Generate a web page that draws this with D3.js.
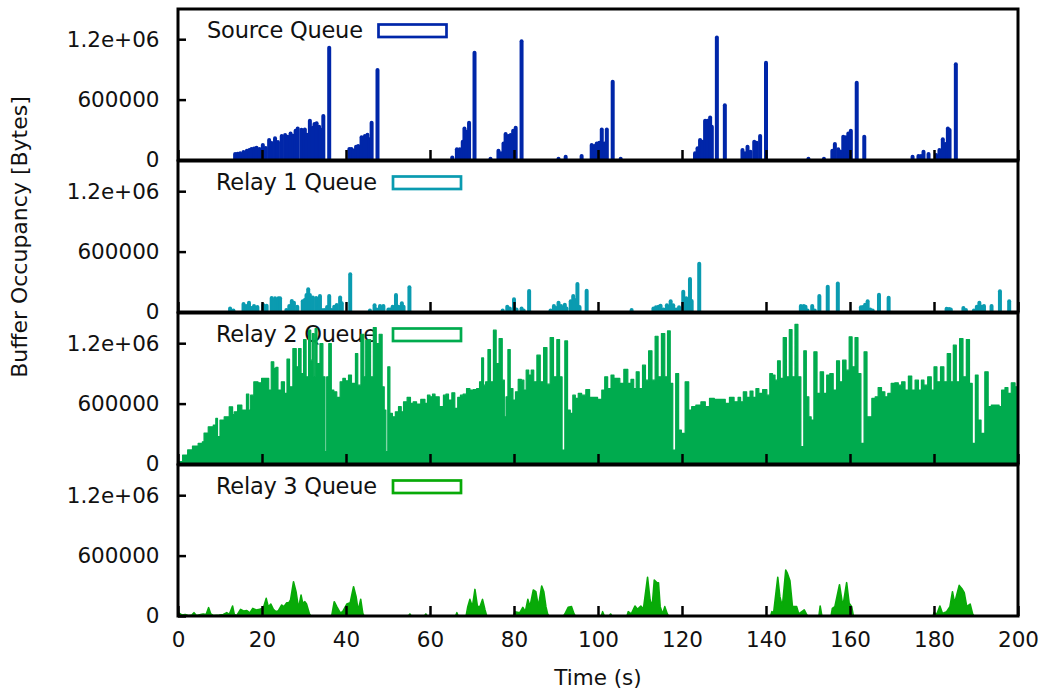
<!DOCTYPE html>
<html lang="en">
<head>
<meta charset="UTF-8">
<title>Buffer Occupancy</title>
<script src="https://d3js.org/d3.v7.min.js"></script>
<style>
  body { margin: 0; background: #fff; }
  svg text { font-family: 'DejaVu Sans', sans-serif; fill: #111; }
</style>
</head>
<body>
<svg id="chart" width="1040" height="689"></svg>
<script>
// --- Data (time in s, occupancy in kB = 1000 bytes) ---
const sourceQueue = [
  [13.6,60],[14.2,63],[14.8,66],[15.6,80],[16.4,93],[17.0,100],[17.5,109],[18.1,115],[18.7,122],[19.4,110],
  [20.2,149],[20.9,120],[21.7,198],[22.3,170],[23.1,215],[23.8,180],[24.7,238],[25.5,248],[26.1,230],[26.8,264],
  [27.4,240],[28.0,290],[28.5,314],[29.4,300],[30.2,304],[30.7,250],[31.4,390],[32.1,320],[32.5,357],[33.0,364],
  [33.6,330],[34.0,300],[34.6,436],[36.0,1114],
  [40.8,109],[41.3,109],[41.8,95],[42.4,132],[42.9,138],[43.7,225],[44.5,238],[45.1,251],[45.6,205],[46.1,370],
  [47.5,893],
  [65.3,26],[66.4,106],[67.1,106],[67.8,182],[68.2,314],[68.7,280],[69.3,370],[70.6,1065],
  [74.4,13],[76.3,93],[76.9,66],[77.5,165],[78.0,258],[78.6,238],[79.2,248],[79.8,291],[80.4,321],[81.8,1180],
  [90.6,13],[92.3,33],[96.1,40],
  [98.5,149],[99.1,140],[99.7,165],[100.3,172],[100.9,304],[101.5,165],[102.1,304],[103.5,777],[105.4,13],
  [123.1,66],[123.7,116],[124.3,198],[124.9,182],[125.5,390],[126.1,390],[126.7,423],[127.1,330],[128.3,1217],
  [130.2,545],
  [134.4,99],[135.0,66],[135.6,132],[136.3,83],[137.2,182],[137.8,172],[138.6,238],[140.0,965],
  [150.1,13],[153.8,13],
  [155.8,93],[156.4,159],[157.2,106],[157.8,83],[158.4,231],[159.0,225],[159.6,264],[160.2,291],[161.6,767],
  [163.4,231],
  [174.9,33],[176.3,40],[176.9,40],[177.5,83],[178.7,60],[180.5,50],[181.3,99],[182.1,205],[182.7,159],
  [183.3,314],[183.7,298],[185.2,952]
];

const relay1Queue = [
  [12.4,36],[13.2,15],[15.6,79],[16.2,60],[16.9,93],[17.5,40],[18.1,60],[18.9,50],[20.3,69],[21.1,63],
  [22.3,139],[23.1,136],[23.9,136],[24.3,136],[25.8,20],[26.5,60],[27.1,109],[27.6,93],[28.4,53],[29.7,106],
  [30.2,119],[30.6,169],[31.0,225],[31.4,169],[32.1,145],[32.9,139],[33.4,50],[33.8,159],[34.2,20],[34.8,20],
  [35.5,50],[36.0,159],[36.6,20],[37.2,53],[37.8,69],[38.6,145],[39.0,86],[41.0,374],
  [45.7,15],[46.8,66],[47.3,26],[48.1,60],[48.9,60],[50.1,26],[50.5,26],[51.1,53],[51.9,169],[52.5,53],
  [53.3,86],[53.7,53],[55.1,245],
  [77.3,15],[78.4,53],[79.0,36],[80.0,126],[80.6,26],[81.8,36],[82.3,15],[83.6,208],
  [88.7,15],[89.5,60],[90.0,40],[90.6,93],[91.2,60],[92.1,73],[92.5,36],[93.5,106],[94.1,159],[94.5,119],
  [95.1,278],[95.6,50],[97.3,212],
  [108.0,20],[113.2,36],[113.8,46],[114.4,53],[114.9,63],[115.6,26],[116.4,66],[116.8,53],[117.3,106],
  [117.9,66],[118.6,26],[119.3,46],[120.3,202],[121.0,136],[121.9,327],[122.3,109],[124.1,479],
  [148.3,60],[149.0,60],[149.4,53],[149.9,15],[151.0,60],[151.6,15],[152.7,159],[154.7,251],[157.1,284],
  [162.6,46],[163.1,50],[163.6,73],[164.2,106],[164.8,26],[165.4,15],[166.9,172],[169.2,142],
  [183.0,33],[183.6,30],[184.0,26],[187.0,40],[187.6,20],[189.5,15],[190.2,53],[190.8,93],[191.4,53],
  [191.9,60],[193.7,60],[195.7,205],[197.9,106]
];

const relay2Queue = [
  [0,0],[0.2,10],[0.5,23],[1.7,89],[2.9,140],[4.0,178],[5.6,205],[6.0,220],[6.4,307],[8.0,370],[8.8,387],
  [9.2,453],[9.6,271],[10.4,436],[11.6,469],[12.8,568],[13.2,490],[13.6,519],[14.8,585],[15.6,536],[16.0,536],
  [16.6,694],[17.1,536],[17.5,684],[18.6,816],[19.5,807],[20.3,850],[21.3,850],[21.9,734],[22.5,1015],[23.1,949],
  [23.5,959],[24.1,734],[25.1,816],[25.6,701],[26.3,1041],[26.8,767],[27.9,1147],[28.4,965],[29.0,1147],[29.6,899],
  [30.2,1236],[30.8,866],[31.4,1329],[31.8,1031],[32.2,1296],[32.5,866],[32.8,1345],[33.4,998],[34.2,1197],[34.8,866],
  [35.2,122],[35.6,866],[36.2,1197],[36.8,734],[37.4,717],[38.2,661],[39.0,816],[39.5,850],[40.2,826],[41.0,883],
  [41.6,800],[42.0,800],[42.5,1097],[43.1,783],[44.0,1289],[44.5,866],[44.9,1230],[45.6,1236],[46.1,866],[46.9,1355],
  [47.5,1197],[48.3,1289],[48.9,767],[49.3,536],[49.7,122],[50.2,965],[50.7,502],[51.4,469],[52.1,519],[52.9,569],
  [53.4,519],[54.0,618],[55.1,661],[55.6,602],[56.4,618],[57.2,595],[58.4,641],[59.2,602],[59.6,684],[60.4,668],
  [60.8,694],[61.6,668],[62.8,569],[63.6,684],[64.0,694],[64.8,635],[65.6,707],[66.2,552],[67.0,661],[67.5,684],
  [68.3,694],[69.1,750],[69.9,734],[70.7,740],[71.5,750],[72.1,816],[72.5,1054],[73.0,783],[73.5,816],[74.1,1137],
  [74.7,816],[75.5,1329],[76.0,998],[76.9,1246],[77.5,833],[77.9,469],[78.3,668],[78.8,1137],[79.4,750],[80.1,635],
  [80.6,717],[81.4,840],[82.1,833],[82.6,734],[83.2,932],[83.8,883],[84.4,932],[85.0,816],[85.9,1081],[86.6,816],
  [87.5,1157],[88.2,793],[89.0,1256],[89.8,866],[90.6,1236],[91.1,866],[91.8,139],[92.4,1223],[93.1,536],[93.7,502],
  [94.3,684],[94.9,651],[95.7,701],[96.5,684],[97.7,740],[98.3,661],[99.3,661],[100.5,641],[101.3,734],[101.9,866],
  [102.7,750],[103.5,883],[104.1,850],[104.8,850],[105.6,800],[106.7,939],[107.5,800],[108.2,840],[108.8,750],[109.4,916],
  [110.2,750],[111.0,982],[111.6,833],[112.5,1124],[113.2,833],[114.0,1269],[114.6,866],[115.6,1296],[116.2,866],[116.9,1322],
  [117.5,800],[118.1,139],[118.9,899],[119.5,337],[120.2,304],[121.3,816],[121.9,536],[122.7,569],[123.9,585],[125.1,618],
  [126.0,569],[127.1,651],[128.3,641],[129.8,641],[130.8,602],[131.8,661],[133.0,618],[133.7,661],[134.2,618],[135.0,717],
  [135.8,661],[136.6,724],[137.2,661],[138.0,750],[138.6,701],[139.8,740],[140.6,684],[141.2,899],[141.9,883],[142.4,833],
  [143.1,1025],[143.7,850],[144.5,1256],[145.2,866],[145.9,1335],[146.5,866],[147.3,1388],[147.9,866],[148.7,172],[149.3,1124],
  [149.9,668],[150.5,469],[151.0,436],[151.8,1114],[152.5,701],[153.3,916],[154.1,701],[154.8,883],[155.6,899],[156.4,734],
  [157.2,1025],[157.8,816],[158.7,1031],[159.4,932],[160.2,1263],[160.8,965],[161.6,1256],[162.2,899],[163.0,205],[163.7,1114],
  [164.4,469],[164.8,469],[165.6,651],[166.4,668],[167.0,760],[168.0,717],[168.6,668],[169.4,701],[170.2,800],[171.1,807],
  [171.9,783],[172.7,816],[173.5,734],[174.3,873],[175.1,734],[175.9,833],[176.7,734],[177.3,833],[177.9,783],[179.1,866],
  [179.6,734],[180.4,965],[181.0,816],[182.1,965],[182.6,816],[183.7,1097],[184.2,816],[185.0,1180],[185.6,816],[186.6,1246],
  [187.2,866],[188.2,1236],[188.7,800],[189.5,205],[190.2,883],[190.8,436],[191.6,304],[192.6,916],[193.2,569],[194.1,585],
  [195.3,585],[195.7,569],[196.5,734],[197.3,760],[197.9,701],[198.9,807],[199.7,767],[200,750]
];

const relay3Queue = [
  [0,0],[0.1,33],[0.9,10],[1.7,15],[2.5,5],[3.3,10],[3.8,33],[4.4,5],[5.4,15],[6.0,20],[6.7,15],[7.3,83],[7.8,20],
  [8.4,5],[9.8,10],[10.8,15],[11.6,33],[12.2,15],[13.0,99],[13.4,15],[14.0,5],[14.9,66],[15.6,50],[16.4,53],
  [17.1,30],[17.8,76],[18.6,60],[19.4,66],[20.3,76],[21.0,175],[21.5,90],[22.1,119],[22.7,66],[23.3,43],[23.9,53],
  [24.7,109],[25.2,93],[25.9,132],[26.4,132],[26.8,159],[27.5,340],[28.1,241],[28.7,76],[29.3,208],[29.7,126],
  [30.2,142],[30.6,119],[31.3,20],[31.6,0],
  [36.6,0],[37.2,142],[37.8,93],[38.6,33],[39.2,43],[40.2,119],[41.0,132],[41.8,291],[42.4,192],[42.9,53],
  [43.5,165],[44.0,26],[44.3,0],
  [54.9,0],[55.2,20],[55.5,0],[58.7,0],[59.0,20],[59.3,0],[66.1,0],[66.4,33],[66.7,0],
  [68.6,0],[69.0,93],[69.5,165],[70.1,93],[70.7,264],[71.3,93],[71.9,93],[72.5,165],[73.1,60],[73.5,0],
  [79.9,0],[80.2,43],[81.4,33],[82.1,86],[82.7,43],[83.3,165],[83.8,93],[84.6,258],[85.2,241],[85.8,93],
  [86.6,298],[87.1,241],[87.6,93],[88.0,20],[88.3,0],
  [91.8,0],[92.1,20],[92.9,86],[93.7,93],[94.3,20],[94.6,0],
  [100.8,0],[101.1,43],[101.5,0],[102.7,0],[103.0,20],[103.3,0],
  [106.9,0],[107.2,43],[107.9,20],[108.8,99],[109.4,66],[110.2,99],[110.8,66],[111.8,384],[112.4,159],[112.9,93],
  [113.4,357],[114.0,331],[114.4,331],[114.8,93],[115.4,20],[115.9,93],[116.5,20],[116.8,0],
  [141.1,0],[141.4,43],[141.8,26],[142.8,384],[143.3,192],[143.9,93],[144.7,456],[145.1,423],[145.7,350],[146.3,93],
  [147.3,93],[147.8,20],[149.1,60],[149.6,20],[149.9,0],
  [152.6,0],[152.9,99],[153.3,0],
  [155.5,0],[155.8,76],[156.4,93],[157.5,311],[158.3,93],[159.2,331],[159.8,126],[160.4,93],[160.8,0],
  [179.8,0],[180.0,33],[180.7,20],[181.4,99],[182.0,26],[183.0,43],[183.8,93],[184.4,241],[184.9,126],[186.0,304],
  [186.6,274],[187.2,231],[187.8,93],[188.6,119],[189.2,20],[189.5,0]
];

const seriesNames = ["Source Queue", "Relay 1 Queue", "Relay 2 Queue", "Relay 3 Queue"];
const seriesColors = ["#0026a9", "#0a9bb0", "#00ab4e", "#08aa08"];
const seriesData = [sourceQueue, relay1Queue, relay2Queue, relay3Queue];
const seriesKind = ["impulses", "impulses", "steps", "area"];

const xTickValues = [0, 20, 40, 60, 80, 100, 120, 140, 160, 180, 200];
const yTickValues = [0, 600000, 1200000];
const yTickLabels = ["0", "600000", "1.2e+06"];

// --- Layout ---
const FONT = 21.5;
const plotLeft = 178, plotRight = 1018;
const panelTop0 = 9, panelH = 151, panelStep = 152;
const legendTextX = [207, 216, 216, 216];
const legendTextW = [156, 161, 161, 161];
const legendBoxX = [378.5, 393, 393, 393];

const svg = d3.select("#chart");
const x = d3.scaleLinear().domain([0, 200]).range([plotLeft, plotRight]);

seriesData.forEach((data, i) => {
  const top = panelTop0 + i * panelStep;
  const bottom = top + panelH;
  const y = d3.scaleLinear().domain([0, 1.5e6]).range([bottom, top]);
  const color = seriesColors[i];
  const g = svg.append("g");

  svg.append("clipPath").attr("id", "clip" + i)
    .append("rect").attr("x", plotLeft).attr("y", top)
    .attr("width", plotRight - plotLeft).attr("height", panelH);

  // legend (drawn below the data, like the original)
  g.append("text")
    .attr("x", legendTextX[i]).attr("y", top + 29)
    .attr("font-size", 22.5)
    .attr("textLength", legendTextW[i])
    .text(seriesNames[i]);
  g.append("rect")
    .attr("x", legendBoxX[i]).attr("y", top + 15.5)
    .attr("width", 68).attr("height", 12.5)
    .attr("fill", "none").attr("stroke", color).attr("stroke-width", 2.7);

  // data
  const plot = g.append("g").attr("clip-path", `url(#clip${i})`);
  if (seriesKind[i] === "impulses") {
    plot.selectAll("line").data(data).join("line")
      .attr("x1", d => x(d[0])).attr("x2", d => x(d[0]))
      .attr("y1", y(0)).attr("y2", d => y(d[1] * 1000))
      .attr("stroke", color).attr("stroke-width", 4).attr("stroke-linecap", "round");
  } else {
    const curve = seriesKind[i] === "steps" ? d3.curveStep : d3.curveLinear;
    const area = d3.area().curve(curve).x(d => x(d[0])).y0(y(0)).y1(d => y(d[1] * 1000));
    const line = d3.line().curve(curve).x(d => x(d[0])).y(d => y(d[1] * 1000));
    plot.append("path").attr("d", area(data)).attr("fill", color);
    plot.append("path").attr("d", line(data))
      .attr("fill", "none").attr("stroke", color)
      .attr("stroke-width", seriesKind[i] === "steps" ? 1.2 : 1.6).attr("stroke-linejoin", "round");
  }

  // axes (ticks point inwards)
  const yAxis = d3.axisLeft(y).tickValues(yTickValues)
    .tickFormat((d, j) => yTickLabels[j]).tickSize(-8).tickPadding(18.5);
  g.append("g").attr("transform", `translate(${plotLeft},0)`).call(yAxis)
    .call(a => a.select(".domain").remove())
    .call(a => a.selectAll("line").attr("stroke", "#000").attr("stroke-width", 2.5))
    .call(a => a.selectAll("text").attr("font-size", FONT).attr("font-family", "DejaVu Sans").attr("fill", "#111"));

  const xAxis = d3.axisBottom(x).tickValues(xTickValues).tickSize(-10).tickPadding(16)
    .tickFormat(i === 3 ? d => d : () => "");
  g.append("g").attr("transform", `translate(0,${bottom})`).call(xAxis)
    .call(a => a.select(".domain").remove())
    .call(a => a.selectAll("line").attr("stroke", "#000").attr("stroke-width", 2.5))
    .call(a => a.selectAll("text").attr("font-size", FONT).attr("font-family", "DejaVu Sans").attr("fill", "#111"));

  // frame
  g.append("rect")
    .attr("x", plotLeft).attr("y", top)
    .attr("width", plotRight - plotLeft).attr("height", panelH)
    .attr("fill", "none").attr("stroke", "#000").attr("stroke-width", 3);
});

// axis titles
svg.append("text")
  .attr("transform", "translate(27,237) rotate(-90)")
  .attr("text-anchor", "middle").attr("font-size", 22)
  .text("Buffer Occupancy [Bytes]");

svg.append("text")
  .attr("x", (plotLeft + plotRight) / 2).attr("y", 685)
  .attr("text-anchor", "middle").attr("font-size", FONT)
  .text("Time (s)");
</script>
</body>
</html>
